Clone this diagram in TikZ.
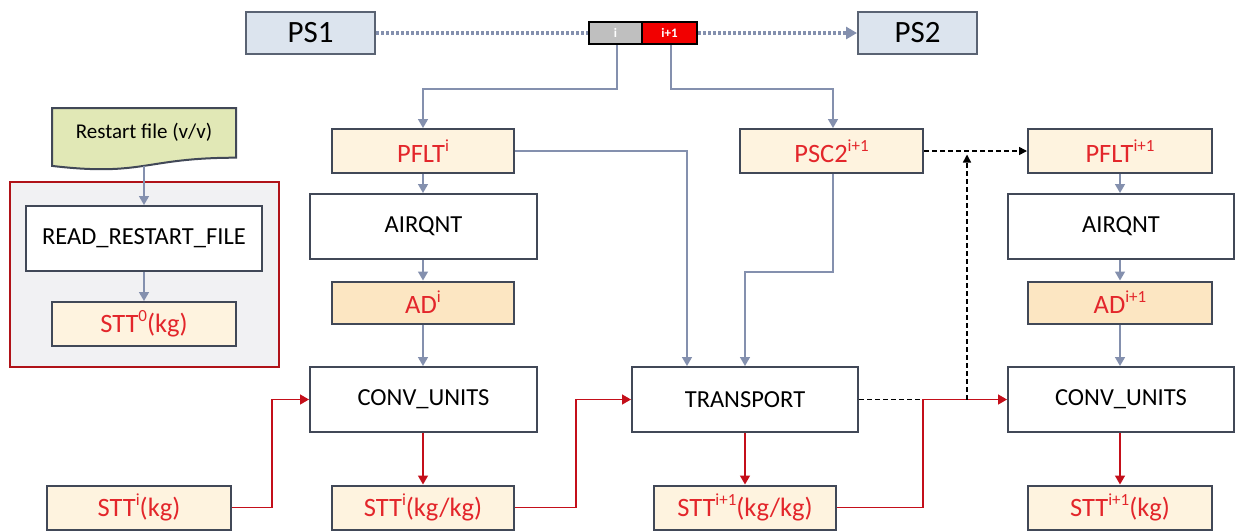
\documentclass[tikz,border=0pt]{standalone}
\usepackage{fontspec}
\setmainfont{Carlito}
\usetikzlibrary{arrows.meta}
\definecolor{bord}{HTML}{414857}
\definecolor{psbord}{HTML}{5A6373}
\definecolor{psfill}{HTML}{DCE4EE}
\definecolor{cream}{HTML}{FEF3DF}
\definecolor{adfill}{HTML}{FCE6C2}
\definecolor{rtext}{HTML}{E3262B}
\definecolor{gline}{HTML}{8490AE}
\definecolor{rline}{HTML}{C40F1A}
\definecolor{grpfill}{HTML}{F1F1F3}
\definecolor{grpbord}{HTML}{B01218}
\definecolor{docfill}{HTML}{E1E8B6}
\definecolor{bargray}{HTML}{BFBFBF}
\definecolor{barred}{HTML}{F20000}
\newcommand\tsup[1]{\raisebox{0.42em}{\fontsize{17}{17}\selectfont #1}}
\tikzset{
  bx/.style={draw=bord, line width=2pt, inner sep=0pt, font=\fontsize{24.5}{28}\selectfont, text=black},
  wbox/.style={bx, fill=white, minimum width=227pt, minimum height=65pt},
  cbox/.style={bx, fill=cream, minimum width=183pt, minimum height=44pt, text=rtext, font=\fontsize{26.5}{30}\selectfont},
  abox/.style={cbox, fill=adfill, minimum height=42pt},
  psbox/.style={draw=psbord, line width=2pt, fill=psfill, inner sep=0pt, minimum height=42pt, font=\fontsize{31}{35}\selectfont},
  barbox/.style={draw=black, line width=2pt, inner sep=0pt, minimum height=22pt, text=white, font=\fontsize{13}{15}\selectfont\bfseries},
  gconn/.style={draw=gline, line width=1.5pt, -{Triangle[length=9pt,width=10pt]}},
  rconn/.style={draw=rline, line width=1.5pt, -{Triangle[length=9pt,width=10pt]}},
  dconn/.style={draw=black, line width=1.5pt, dash pattern=on 5pt off 3pt},
  dotconn/.style={draw=gline, line width=4pt, dash pattern=on 3pt off 2pt},
}
\begin{document}
\begin{tikzpicture}[x=1pt,y=-1pt]
\useasboundingbox (0,0) rectangle (1236,531);

% top row
\node[psbox, minimum width=129pt] (ps1) at (310.5,33) {PS1};
\node[psbox, minimum width=119pt] (ps2) at (917.5,33) {PS2};
\node[barbox, fill=bargray, minimum width=53pt] (bari) at (615.5,33) {i};
\node[barbox, fill=barred, minimum width=55pt] (barn) at (669.5,33) {i+1};
\draw[dotconn] (ps1.east) -- (bari.west);
\draw[dotconn, -{Triangle[length=11pt,width=12pt]}] (barn.east) -- (ps2.west);

% left group
\node[draw=grpbord, line width=2pt, fill=grpfill, minimum width=269pt, minimum height=185pt, inner sep=0pt] (grp) at (144.5,274.5) {};
\draw[draw=bord, line width=2pt, fill=docfill] (52,108) -- (236,108) -- (236,157.7) .. controls (144,157.7) and (144,176.7) .. (52,165.9) -- cycle;
\node[font=\fontsize{21}{25}\selectfont, inner sep=0pt] (rf) at (144,132) {Restart file (v/v)};
\coordinate (rfb) at (144,166);
\node[wbox, minimum width=236pt] (read) at (144,238.5) {READ\_RESTART\_FILE};
\node[cbox, minimum width=184pt] (stt0) at (144,324) {STT\tsup{0}(kg)};
\draw[gconn] (rfb) -- (read.north);
\draw[gconn] (read.south) -- (stt0.north);

% column 1
\node[cbox, minimum width=182pt] (pflt1) at (423,151) {PFLT\tsup{i}};
\node[wbox] (airq1) at (423.5,226.5) {AIRQNT};
\node[abox, minimum width=182pt] (ad1) at (423,302.5) {AD\tsup{i}};
\node[wbox] (conv1) at (423.5,399.5) {CONV\_UNITS};
\node[cbox, minimum width=182pt] (stt1) at (423,507.5) {STT\tsup{i}(kg/kg)};
\node[cbox, minimum width=184pt] (sttkg) at (139,507.5) {STT\tsup{i}(kg)};

% column 2
\node[cbox] (psc2) at (831.5,151) {PSC2\tsup{i+1}};
\node[wbox, minimum width=226pt] (trans) at (745,399.5) {TRANSPORT};
\node[cbox, minimum width=182pt] (stt2) at (745,507.5) {STT\tsup{i+1}(kg/kg)};

% column 3
\node[cbox, minimum width=184pt] (pflt2) at (1120,151) {PFLT\tsup{i+1}};
\node[wbox, minimum width=226pt] (airq2) at (1121,226.5) {AIRQNT};
\node[abox, minimum width=184pt] (ad2) at (1120,302.5) {AD\tsup{i+1}};
\node[wbox, minimum width=226pt] (conv2) at (1121,399.5) {CONV\_UNITS};
\node[cbox, minimum width=184pt] (stt3) at (1120,507.5) {STT\tsup{i+1}(kg)};

% gray connectors
\draw[gconn] ([xshift=1.5pt]bari.south) -- ++(0,44) -| (pflt1.north);
\draw[gconn] ([xshift=1.5pt]barn.south) -- ++(0,44) -| ([xshift=1.5pt]psc2.north);
\draw[gconn] (pflt1.east) -| ([xshift=-58pt]trans.north);
\draw[gconn] ([xshift=1.5pt]psc2.south) -- ++(0,98) -| (trans.north);
\draw[gconn] (pflt1.south) -- (airq1.north -| pflt1.south);
\draw[gconn] (airq1.south -| ad1.north) -- (ad1.north);
\draw[gconn] (ad1.south) -- (conv1.north -| ad1.south);
\draw[gconn] (pflt2.south) -- (airq2.north -| pflt2.south);
\draw[gconn] (airq2.south -| ad2.north) -- (ad2.north);
\draw[gconn] (ad2.south) -- (conv2.north -| ad2.south);

% red connectors
\draw[rconn] (conv1.south -| stt1.north) -- (stt1.north);
\draw[rconn] (trans.south) -- (stt2.north);
\draw[rconn] (conv2.south -| stt3.north) -- (stt3.north);
\draw[rconn] (sttkg.east) -- ++(40,0) |- (conv1.west);
\draw[rconn] (stt1.east) -- ++(61,0) |- (trans.west);
\draw[rconn] (stt2.east) -- ++(86,0) |- (conv2.west);

% dashed connectors
\coordinate (dj) at (922,399.5);
\coordinate (dvb) at (967,399.5);
\coordinate (dvt) at (967,154.5);
\draw[dconn] (trans.east) -- (dj);
\draw[dconn, -{Triangle[length=8pt,width=8pt]}] (dvb) -- (dvt);
\draw[dconn, -{Triangle[length=8pt,width=8pt]}] (psc2.east) -- (pflt2.west);
\end{tikzpicture}
\end{document}
